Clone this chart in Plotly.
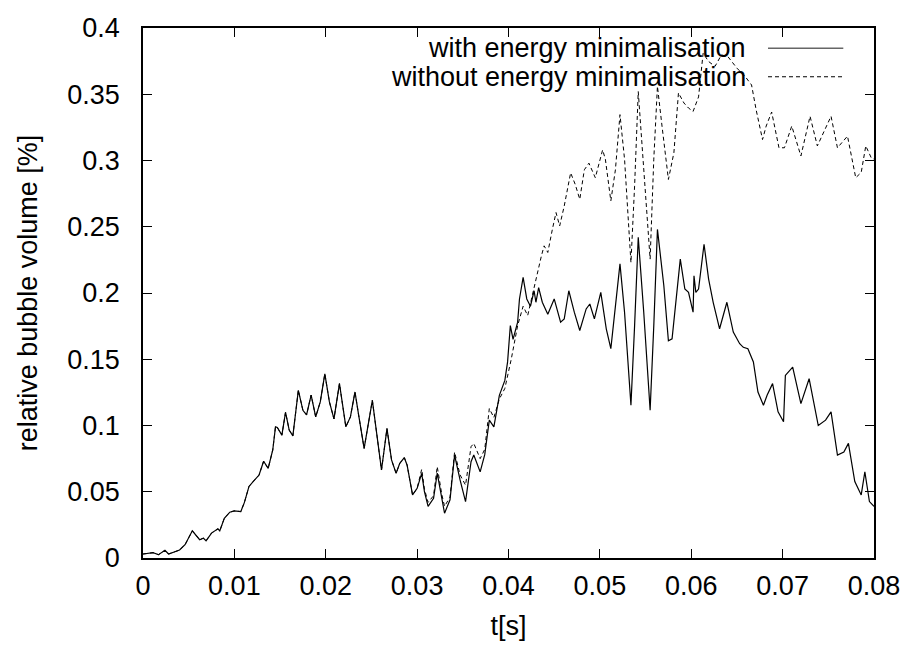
import plotly.graph_objects as go

# solid curve: with energy minimalisation
t_with = [0, .0011, .0017, .0024, .0028, .0035, .004, .0046, .0054, .0062, .0066, .0069, .0075, .0082, .0084,
          .0089, .0095, .0100, .0107, .0111, .0116, .0121, .0127, .0132, .0137, .0142, .0145, .0147, .0152,
          .0156, .0160, .0164, .0170, .0175, .0179, .0184, .0189, .0194, .0199, .0204, .0209, .0215, .0222,
          .0227, .0232, .0236, .0242, .0251, .0256, .0261, .0267, .0272, .0277, .0281, .0286, .0289, .0295,
          .0300, .0305, .0308, .0312, .0318, .0322, .0327, .0330, .0336, .0341, .0347, .0353, .0359, .0362,
          .0369, .0374, .0379, .0384, .0390, .0396, .0399, .0402, .0405, .0410, .0412, .0416, .0420, .0424,
          .0428, .0430, .0433, .0437, .0443, .0450, .0457, .0461, .0466, .0472, .0478, .0485, .0489, .0494,
          .0501, .0507, .0512, .0516, .0522, .0527, .0534, .0538, .0542, .0548, .0555, .0559, .0563, .0570,
          .0575, .0579, .0588, .0593, .0597, .0602, .0603, .0605, .0608, .0614, .0619, .0624, .0631, .0639,
          .0646, .0653, .0657, .0662, .0668, .0673, .0679, .0683, .0689, .0695, .0701, .0703, .0711, .0720,
          .0725, .0729, .0739, .0747, .0753, .0760, .0767, .0772, .0779, .0786, .0790, .0795, .0800]
v_with = [.003, .004, .0025, .0058, .003, .0045, .006, .010, .0205, .0138, .015, .013, .0188, .022, .0205,
          .030, .0346, .0356, .035, .042, .054, .058, .0626, .073, .0677, .0815, .099, .0985, .0927,
          .110, .0965, .0922, .1266, .1115, .108, .123, .1065, .1178, .139, .1178, .105, .1316, .099,
          .1065, .1253, .1078, .0827, .119, .0927, .0664, .0977, .074, .0639, .0714, .0757, .0702, .0476,
          .0526, .0639, .050, .0389, .045, .064, .045, .0338, .0439, .0777, .0589, .0426, .0727, .0777,
          .065, .078, .104, .099, .1228, .134, .148, .1754, .165, .178, .1955, .2118, .1955, .190,
          .2017, .193, .204, .193, .184, .1955, .178, .1805, .2017, .1855, .1717, .188, .1917, .1805,
          .2005, .173, .158, .183, .222, .1855, .1153, .1754, .242, .1855, .1115, .1754, .248, .2055,
          .164, .1654, .2256, .203, .2005, .1855, .213, .2005, .203, .2368, .2105, .193, .173, .193,
          .1705, .1617, .159, .158, .148, .1253, .1153, .1228, .1316, .1103, .1028, .1378, .1441, .1165,
          .1266, .1353, .100, .104, .1103, .0777, .080, .0865, .0577, .0476, .065, .0426, .0389]

# dashed curve: without energy minimalisation (identical to the solid one before t = 0.03)
t_shared = [t for t in t_with if t <= .0300]
v_shared = v_with[:len(t_shared)]
t_without = t_shared + [.0305, .0308, .0312, .0318, .0322, .0327, .0330, .0336, .0341, .0347, .0353, .0359,
                        .0362, .0369, .0374, .0379, .0384, .0390, .0396, .0403, .0410, .0416, .0421, .0425,
                        .0428, .0432, .0436, .0439, .0443, .0448, .0452, .0456, .0461, .0468, .0473, .0478,
                        .0483, .0488, .0492, .0495, .0503, .0506, .0512, .0517, .0522, .0527, .0534, .0538,
                        .0542, .0546, .0555, .0559, .0563, .0568, .0575, .0581, .0586, .0592, .0597, .0602,
                        .0608, .0613, .0619, .0626, .0633, .0640, .0650, .0659, .0666, .0671, .0678, .0682,
                        .0688, .0696, .0702, .0710, .0720, .0730, .0738, .0753, .0760, .0771, .0780, .0786,
                        .0791, .0797, .0800]
v_without = v_shared + [.067, .052, .042, .047, .069, .048, .039, .046, .080, .0627, .055, .084,
                        .0865, .075, .082, .1128, .106, .120, .128, .150, .1754, .190, .183, .1955,
                        .2055, .2155, .228, .2356, .2306, .248, .2607, .2506, .2657, .2907, .282, .2707,
                        .293, .298, .292, .287, .308, .301, .2695, .293, .3346, .301, .223, .2807,
                        .352, .3133, .2256, .301, .356, .326, .2857, .3058, .351, .3434, .3396, .337,
                        .348, .381, .3747, .371, .3797, .3785, .3697, .3634, .357, .3383, .3158, .326,
                        .3366, .3096, .3096, .326, .3034, .3334, .311, .3334, .3096, .3184, .287, .291,
                        .311, .302, .301]

x_ticks = [0, .01, .02, .03, .04, .05, .06, .07, .08]
x_labels = ["0", "0.01", "0.02", "0.03", "0.04", "0.05", "0.06", "0.07", "0.08"]
y_ticks = [0, .05, .1, .15, .2, .25, .3, .35, .4]
y_labels = ["0", "0.05", "0.1", "0.15", "0.2", "0.25", "0.3", "0.35", "0.4"]
series_names = ["with energy minimalisation", "without energy minimalisation"]

FONT = "Liberation Sans, Arial, sans-serif"
FS = 27

fig = go.Figure()
fig.add_trace(go.Scatter(x=t_with, y=v_with, mode="lines", name=series_names[0],
                         line=dict(color="black", width=1.2), showlegend=False))
fig.add_trace(go.Scatter(x=t_without, y=v_without, mode="lines", name=series_names[1],
                         line=dict(color="black", width=1.0, dash="4px,3px"), showlegend=False))

# gnuplot-style legend: text right-aligned, sample line to the right
legend_rows = [(0.962, "solid", "#666666", 1.5), (0.908, "4px,3px", "black", 1.0)]
for name, (yp, dash, col, w) in zip(series_names, legend_rows):
    fig.add_annotation(xref="paper", yref="paper", x=0.827, y=yp, text=name, showarrow=False,
                       xanchor="right", yanchor="middle", font=dict(family=FONT, size=FS, color="black"))
    fig.add_shape(type="line", xref="paper", yref="paper", x0=0.855, x1=0.958, y0=yp, y1=yp,
                  line=dict(color=col, width=w, dash=dash))

axis_common = dict(showgrid=False, zeroline=False, showline=True, linecolor="black", linewidth=1.5,
                   mirror="ticks", ticks="inside", ticklen=9, tickwidth=1, tickcolor="black",
                   tickfont=dict(family=FONT, size=FS, color="black"))
fig.update_xaxes(range=[0, 0.08], tickvals=x_ticks, ticktext=x_labels, ticklabelstandoff=3,
                 title=dict(text="t[s]", font=dict(family=FONT, size=FS, color="black"), standoff=16),
                 **axis_common)
fig.update_yaxes(range=[0, 0.4], tickvals=y_ticks, ticktext=y_labels, ticklabelstandoff=16,
                 title=dict(text="relative bubble volume [%]", font=dict(family=FONT, size=FS, color="black"),
                            standoff=22),
                 **axis_common)
fig.update_layout(width=912, height=648, margin=dict(l=143, r=28, t=28, b=86),
                  plot_bgcolor="white", paper_bgcolor="white", font=dict(family=FONT))
fig.write_html("out.html", config={"displayModeBar": False},
               post_script="document.body.style.margin='0';")
